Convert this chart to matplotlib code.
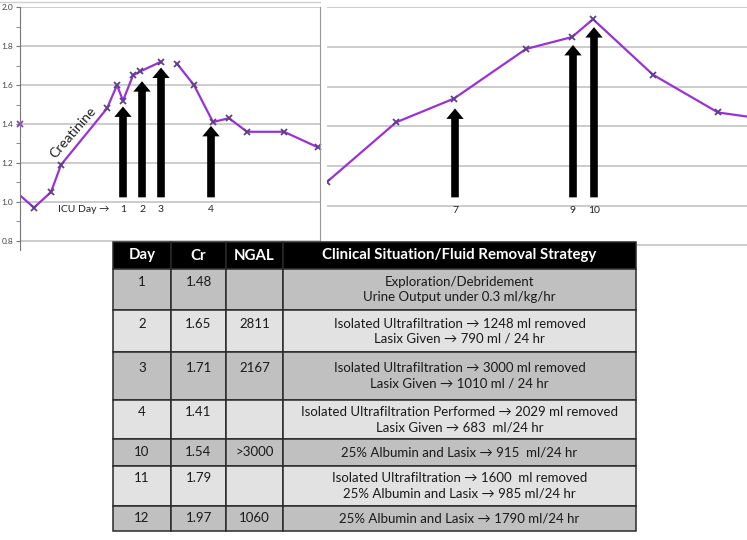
import matplotlib.pyplot as plt
from matplotlib.ticker import MultipleLocator, NullLocator

plt.rcParams['font.family'] = ['Lato', 'DejaVu Sans']

# left panel: creatinine around ICU days 1-4 (x in arbitrary time units)
left_t = [-0.6, 1.4, 3.1, 4.1, 8.7, 9.7, 10.3, 11.3, 12.0, 14.1]
left_cr = [1.06, 0.97, 1.05, 1.19, 1.48, 1.60, 1.52, 1.65, 1.67, 1.72]
left_t2 = [15.7, 17.4, 19.3, 20.9, 22.7, 26.4, 29.8]
left_cr2 = [1.71, 1.60, 1.41, 1.43, 1.36, 1.36, 1.28]
left_stray_t = [0.0]
left_stray_cr = [1.40]
left_days = ['1', '2', '3', '4']
left_arrow_t = [10.3, 12.2, 14.1, 19.1]
left_arrow_top = [1.49, 1.62, 1.69, 1.39]

# right panel: later ICU days
right_t = [0.0, 6.9, 12.7, 19.9, 24.5, 26.6, 32.6, 39.1, 42.6]
right_cr = [1.12, 1.42, 1.54, 1.79, 1.85, 1.94, 1.66, 1.47, 1.445]
right_days = ['7', '9', '10']
right_arrow_t = [12.8, 24.6, 26.7]
right_arrow_top = [1.49, 1.81, 1.90]

# table
col_labels = ['Day', 'Cr', 'NGAL', 'Clinical Situation/Fluid Removal Strategy']
tab_day = ['1', '2', '3', '4', '10', '11', '12']
tab_cr = ['1.48', '1.65', '1.71', '1.41', '1.54', '1.79', '1.97']
tab_ngal = ['', '2811', '2167', '', '>3000', '', '1060']
tab_strategy = [
    'Exploration/Debridement\nUrine Output under 0.3 ml/kg/hr',
    'Isolated Ultrafiltration \u2192 1248 ml removed\nLasix Given \u2192 790 ml / 24 hr',
    'Isolated Ultrafiltration \u2192 3000 ml removed\nLasix Given \u2192 1010 ml / 24 hr',
    'Isolated Ultrafiltration Performed \u2192 2029 ml removed\nLasix Given \u2192 683  ml/24 hr',
    '25% Albumin and Lasix \u2192 915  ml/24 hr',
    'Isolated Ultrafiltration \u2192 1600  ml removed\n25% Albumin and Lasix \u2192 985 ml/24 hr',
    '25% Albumin and Lasix \u2192 1790 ml/24 hr',
]

W, H = 747, 540
LINE = '#9932d6'
MARK = '#5d3f8a'
GRID = '#c8c8c8'

fig = plt.figure(figsize=(W / 100, H / 100), dpi=100)


def px_rect(x0, y0, x1, y1):
    return [x0 / W, 1 - y1 / H, (x1 - x0) / W, (y1 - y0) / H]


def draw_arrows(ax, ts, tops, base, labels, label_y):
    for t, top, lab in zip(ts, tops, labels):
        ax.annotate('', xy=(t, top), xytext=(t, base),
                    arrowprops=dict(arrowstyle='simple,head_length=0.75,head_width=1.25,tail_width=0.55',
                                    fc='black', ec='none', shrinkA=0, shrinkB=0,
                                    mutation_scale=10))
        ax.text(t, label_y, lab, ha='center', va='center', fontsize=7.5, color='#222222')


# ---- left chart
axl = fig.add_axes(px_rect(20, 7.3, 320, 250))
axl.set_xlim(0, 30)
axl.set_ylim(2 - (250 - 7.3) / 194.5, 2.0)
axl.yaxis.set_major_locator(MultipleLocator(0.2))
axl.yaxis.set_minor_locator(MultipleLocator(0.1))
axl.xaxis.set_major_locator(NullLocator())
axl.grid(axis='y', color=GRID, lw=1.3)
axl.set_axisbelow(True)
axl.tick_params(axis='y', which='both', length=3, color='#777777', labelsize=6,
                labelcolor='#444444', pad=2)
axl.yaxis.set_major_formatter(lambda v, p: f'{v:.1f}')
for s in ['top', 'bottom']:
    axl.spines[s].set_visible(False)
axl.spines['left'].set_color('#777777')
axl.spines['right'].set_color('#999999')

axl.plot(left_t, left_cr, color=LINE, lw=1.6, marker='x', ms=4, mec=MARK, mew=1.3)
axl.plot(left_t2, left_cr2, color=LINE, lw=1.6, marker='x', ms=4, mec=MARK, mew=1.3, clip_on=False)
axl.plot(left_stray_t, left_stray_cr, ls='none', marker='x', ms=4, mec='#8a3fc0', mew=1.3, clip_on=False)
draw_arrows(axl, left_arrow_t, left_arrow_top, 1.023, left_days, 0.96)
axl.text(9.0, 0.96, 'ICU Day \u2192', ha='right', va='center', fontsize=7.5, color='#222222')
axl.text(5.3, 1.355, 'Creatinine', rotation=49, rotation_mode='anchor', ha='center',
         va='center', fontsize=10, color='#222222')

# ---- right chart
axr = fig.add_axes(px_rect(327, 7.3, 747, 250))
axr.set_xlim(0, 42)
axr.set_ylim(2 - (250 - 7.3) / 198.4, 2.0)
axr.yaxis.set_major_locator(MultipleLocator(0.2))
axr.xaxis.set_major_locator(NullLocator())
axr.grid(axis='y', color=GRID, lw=1.3)
axr.set_axisbelow(True)
axr.tick_params(axis='y', length=0, labelleft=False)
for s in axr.spines.values():
    s.set_visible(False)
axr.plot(right_t, right_cr, color=LINE, lw=1.6, marker='x', ms=4, mec=MARK, mew=1.3)
draw_arrows(axr, right_arrow_t, right_arrow_top, 1.042, right_days, 0.975)

# thin frame line above the left chart
fig.add_artist(plt.Line2D([0, 320 / W], [1 - 1.5 / H, 1 - 1.5 / H], color='#d0d0d0', lw=1))

# ---- table
axt = fig.add_axes(px_rect(113, 242, 636, 531))
axt.set_zorder(5)
axt.axis('off')

rows = []
for d, c, n, s in zip(tab_day, tab_cr, tab_ngal, tab_strategy):
    nl = s.count('\n')
    pad = '\n ' * nl
    rows.append([d + pad, c + pad, n + pad, s])

col_w = [58, 55, 57, 353]
row_h = [27, 41, 42, 48, 39, 27, 40, 25]
fills = ['#c0c0c0', '#e2e2e2']

tbl = axt.table(cellText=rows, colLabels=col_labels, colWidths=col_w,
                cellLoc='center', bbox=[0, 0, 1, 1])
tbl.auto_set_font_size(False)
tbl.set_fontsize(9.5)
for (r, c), cell in tbl.get_celld().items():
    cell.set_height(row_h[r])
    cell.set_edgecolor('#2a2a2a')
    cell.set_linewidth(1.1)
    txt = cell.get_text()
    txt.set_linespacing(1.3)
    if r == 0:
        cell.set_facecolor('black')
        txt.set_color('white')
        txt.set_fontweight('bold')
        txt.set_fontsize(10.8)
    else:
        cell.set_facecolor(fills[(r - 1) % 2])
        txt.set_color('#1a1a1a')

fig.savefig('out.png', dpi=100)
